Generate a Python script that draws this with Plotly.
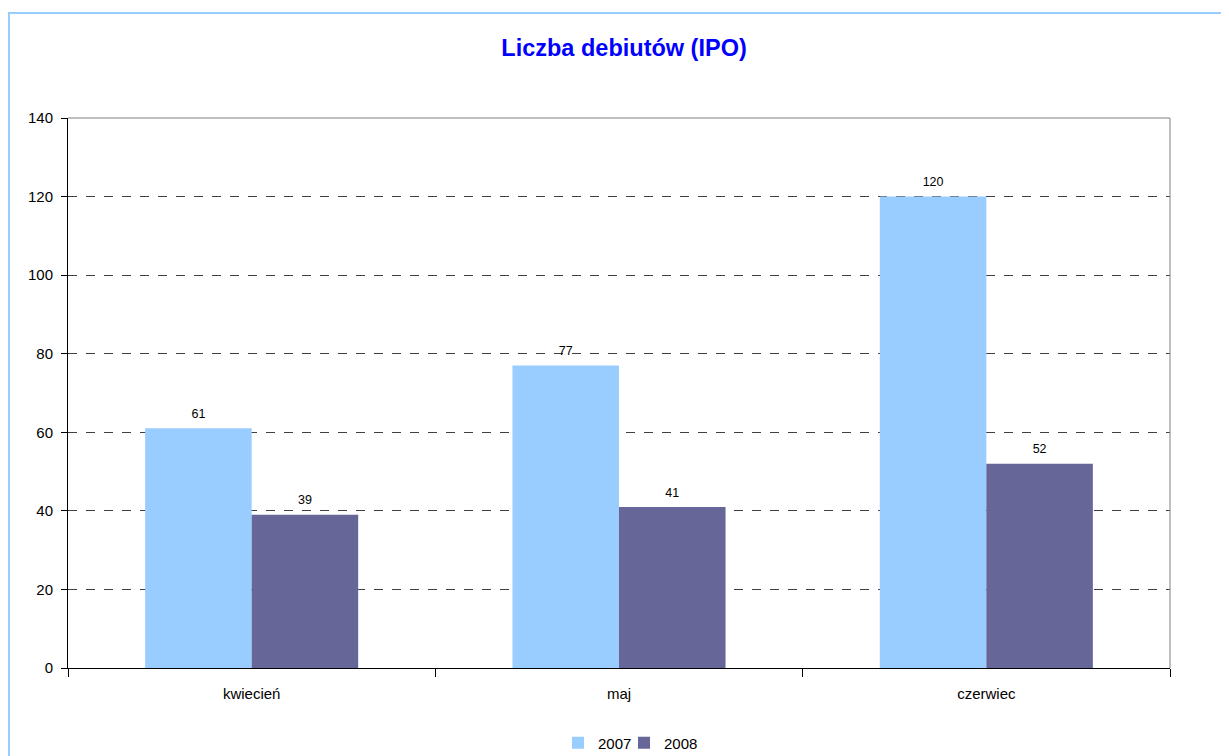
import plotly.graph_objects as go

categories = ["kwiecień", "maj", "czerwiec"]
values_2007 = [61, 77, 120]
values_2008 = [39, 41, 52]
series_names = ["2007", "2008"]
series_colors = ["#99CCFF", "#666699"]
y_ticks = [0, 20, 40, 60, 80, 100, 120, 140]

W, H = 1221, 748
L, R, T, B = 60, 59, 110, 88
PW, PH = W - L - R, H - T - B

fig = go.Figure()
legend_ids = ["legend", "legend2"]
for name, vals, col, lg in zip(series_names, [values_2007, values_2008], series_colors, legend_ids):
    fig.add_trace(go.Bar(
        x=categories, y=vals, name=name, legend=lg,
        marker=dict(color=col, line=dict(width=0)),
        hoverinfo="x+y+name",
    ))
# value labels placed over the bars via grouped scatter (same gap as bars)
for name, vals in zip(series_names, [values_2007, values_2008]):
    fig.add_trace(go.Scatter(
        x=categories, y=vals, mode="markers+text", text=[str(v) for v in vals],
        textposition="top center", showlegend=False, hoverinfo="skip",
        marker=dict(size=10, opacity=0), cliponaxis=False,
        textfont=dict(size=12.5, color="#000000"),
    ))

legend_common = dict(orientation="h", xanchor="left", y=-75 / PH, yanchor="middle",
                     font=dict(size=15), itemwidth=30, tracegroupgap=0,
                     bgcolor="rgba(0,0,0,0)")

fig.update_layout(
    width=W, height=H,
    margin=dict(l=L, r=R, t=T, b=B, autoexpand=False),
    paper_bgcolor="white", plot_bgcolor="white",
    font=dict(family="Liberation Sans, Arial, sans-serif", size=15, color="#000000"),
    title=dict(text="<b>Liczba debiutów (IPO)</b>", x=(624 - 8 - L) / PW, xanchor="center",
               y=1 - 40 / H, yanchor="middle",
               font=dict(size=23.5, color="#0000FF")),
    barmode="group", bargap=0.42, bargroupgap=0,
    scattermode="group", scattergap=0.42,
    showlegend=True,
    legend=dict(x=(558 - 8 - L) / PW, **legend_common),
    legend2=dict(x=(624 - 8 - L) / PW, **legend_common),
    xaxis=dict(
        type="category", showline=True, linecolor="#000000", linewidth=1,
        ticks="outside", tickson="boundaries", ticklen=8, tickcolor="#000000",
        ticklabelstandoff=12,
        showgrid=False, tickfont=dict(size=15),
    ),
    yaxis=dict(
        range=[0, 140], tickvals=y_ticks, showline=True, linecolor="#000000", linewidth=1,
        ticks="outside", ticklen=6, tickcolor="#000000", ticklabelstandoff=5,
        showgrid=True, gridcolor="#404040", griddash="dash", gridwidth=1,
        zeroline=False, tickfont=dict(size=15),
    ),
    shapes=[
        dict(type="line", xref="paper", yref="paper", x0=0, x1=1, y0=1, y1=1,
             line=dict(color="#808080", width=1)),
        dict(type="line", xref="paper", yref="paper", x0=1, x1=1, y0=0, y1=1,
             line=dict(color="#808080", width=1)),
        dict(type="rect", xref="paper", yref="paper",
             x0=(1 - L) / PW, x1=1.2, y0=-0.4, y1=1 + (T - 5) / PH,
             line=dict(color="#99CCFF", width=2), layer="below"),
    ],
)

fig.write_html("out.html")
